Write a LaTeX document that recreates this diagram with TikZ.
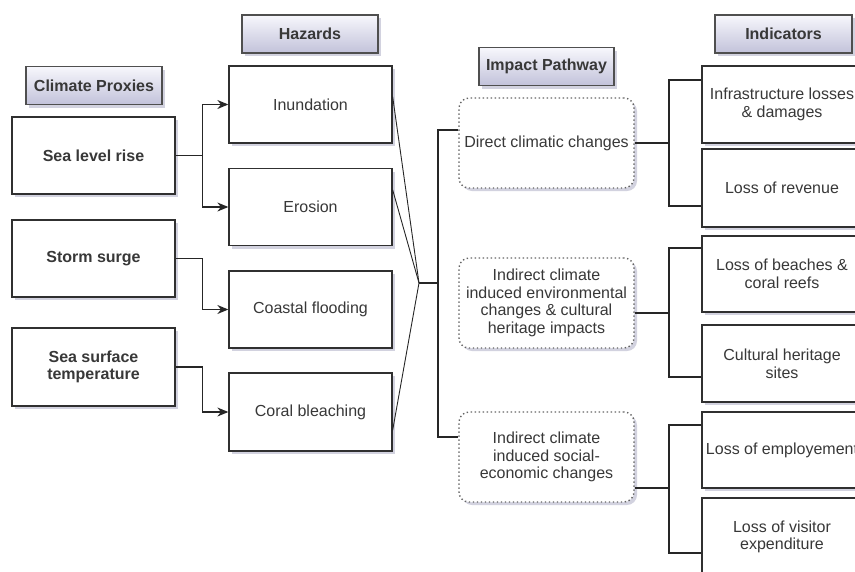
\documentclass[tikz,border=0pt]{standalone}
\usepackage{fontspec}
\setmainfont{Liberation Sans}
\usetikzlibrary{arrows.meta,shadows,calc}

\definecolor{boxline}{HTML}{303030}
\definecolor{txt}{HTML}{383838}
\definecolor{headtop}{HTML}{F7F7FC}
\definecolor{headbot}{HTML}{C2C2DA}
\definecolor{shade}{HTML}{8E8EAE}

\begin{document}
\begin{tikzpicture}[x=1pt, y=-1pt, font=\fontsize{16}{17.7}\selectfont, text=txt,
    soft/.style={drop shadow={shadow xshift=3pt, shadow yshift=-3pt, fill=shade, opacity=.4}},
    head/.style={draw=boxline!85, line width=1.2pt, top color=headtop, bottom color=headbot,
      minimum width=136pt, minimum height=38pt, font=\fontsize{16}{17.7}\selectfont\bfseries, soft},
    box/.style={draw=boxline, line width=1.3pt, fill=white, minimum width=163pt,
      minimum height=77pt, align=center, soft},
    proxy/.style={box, font=\fontsize{16}{17.7}\selectfont\bfseries},
    indic/.style={box, minimum width=160pt},
    pathbox/.style={draw=boxline!75, line width=1.4pt, dash pattern=on 1.4pt off 2.6pt,
      rounded corners=10pt, fill=white, minimum width=175pt, minimum height=90pt, align=center, soft},
    link/.style={line width=1.3pt, draw=black!85},
    feed/.style={link, -{Stealth[length=11pt,width=9pt]}},
    bracket/.style={line width=1.8pt, draw=black!85}]
  \useasboundingbox (0,0) rectangle (855,571);
  \clip (0,0) rectangle (855,571);

  % column headers
  \node [head] (hProxy) at (94,85.5) {Climate Proxies};
  \node [head] (hHazard) at (310,34) {Hazards};
  \node [head, minimum width=135pt] (hPath) at (546.5,66.5) {Impact Pathway};
  \node [head, minimum width=137pt] (hIndic) at (783.5,34) {Indicators};

  % climate proxies
  \node [proxy] (slr) at (93.5,155.5) {Sea level rise};
  \node [proxy] (storm) at (93.5,258.5) {Storm surge};
  \node [proxy, minimum height=78pt] (sst) at (93.5,367) {Sea surface\\temperature};

  % hazards
  \node [box] (inund) at (310.5,104.5) {Inundation};
  \node [box] (erosion) at (310.5,207) {Erosion};
  \node [box] (coast) at (310.5,309.5) {Coastal flooding};
  \node [box, minimum height=78pt] (coral) at (310.5,412) {Coral bleaching};

  % impact pathways
  \node [pathbox] (direct) at (546.5,143) {Direct climatic changes};
  \node [pathbox] (envir) at (546.5,303) {Indirect climate\\induced environmental\\changes \& cultural\\heritage impacts};
  \node [pathbox] (social) at (546.5,457) {Indirect climate\\induced social-\\economic changes};

  % indicators
  \node [indic] (infra) at (782,104.5) {Infrastructure losses\\\& damages};
  \node [indic, minimum height=78pt] (revenue) at (782,188) {Loss of revenue};
  \node [indic, minimum height=76pt] (beach) at (782,274) {Loss of beaches \&\\coral reefs};
  \node [indic] (heritage) at (782,363.5) {Cultural heritage\\sites};
  \node [indic, minimum height=76pt] (employ) at (782,450) {Loss of employement};
  \node [indic, minimum height=78pt] (visitor) at (782,537) {Loss of visitor\\expenditure};

  % proxies to hazards
  \draw [feed] (slr.east) -- ++(27,0) |- (inund.west);
  \draw [feed] (slr.east) -- ++(27,0) |- (erosion.west);
  \draw [feed] (storm.east) -- ++(27,0) |- (coast.west);
  \draw [feed] (sst.east) -- ++(27,0) |- (coral.west);

  % hazards to pathways
  \coordinate (meet) at (419,283);
  \coordinate (bus) at (438,283);
  \draw [link, line width=.9pt] ($(inund.north east)!.4!(inund.south east)$) -- (meet);
  \draw [link, line width=.9pt] ($(erosion.north east)!.28!(erosion.south east)$) -- (meet);
  \draw [link, line width=.9pt] ($(coral.north east)!.73!(coral.south east)$) -- (meet);
  \draw [bracket] (meet) -- (bus);
  \draw [bracket] ($(direct.west)+(0,-13)$) -| (bus) |- ($(social.west)+(0,-20)$);

  % pathways to indicators
  \coordinate (j1) at ($(direct.east)+(34,0)$);
  \coordinate (j2) at ($(envir.east)+(34,10)$);
  \coordinate (j3) at ($(social.east)+(34,31)$);
  \draw [bracket] (direct.east) -- (j1);
  \draw [bracket] ($(infra.west)+(0,-24.5)$) -| (j1) |- ($(revenue.west)+(0,18)$);
  \draw [bracket] ($(envir.east)+(0,10)$) -- (j2);
  \draw [bracket] ($(beach.west)+(0,-26)$) -| (j2) |- ($(heritage.west)+(0,13.5)$);
  \draw [bracket] ($(social.east)+(0,31)$) -- (j3);
  \draw [bracket] ($(employ.west)+(0,-25)$) -| (j3) |- ($(visitor.west)+(0,16)$);
\end{tikzpicture}
\end{document}
